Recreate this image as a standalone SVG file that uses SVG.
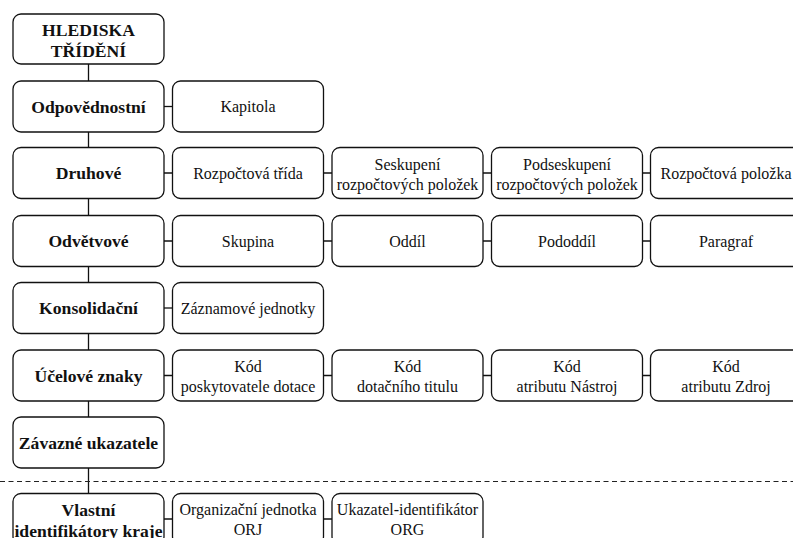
<svg xmlns="http://www.w3.org/2000/svg" width="793" height="538" viewBox="0 0 793 538">
<style>
.box{fill:#fff;stroke:#111;stroke-width:1.3}
.ln{stroke:#111;stroke-width:1.3;fill:none}
.dash{stroke:#222;stroke-width:1.2;stroke-dasharray:5 3.5;fill:none}
text{font-family:"Liberation Serif","Times New Roman",serif;fill:#111;text-anchor:middle}
.b{font-weight:bold;font-size:17.6px}
.r{font-size:16px}
</style>
<rect width="793" height="538" fill="#fff"/>
<g id="connectors">
<line class="ln" x1="88.5" y1="64" x2="88.5" y2="494"/>
<line class="ln" x1="164" y1="106.5" x2="172.5" y2="106.5"/>
<line class="ln" x1="164" y1="173" x2="801" y2="173"/>
<line class="ln" x1="164" y1="241" x2="801" y2="241"/>
<line class="ln" x1="164" y1="308" x2="172.5" y2="308"/>
<line class="ln" x1="164" y1="375.5" x2="801" y2="375.5"/>
<line class="ln" x1="164" y1="519" x2="332" y2="519"/>
</g>
<line id="divider" class="dash" x1="0" y1="481.5" x2="793" y2="481.5"/>
<g id="hlediska"><rect class="box" x="13" y="14" width="151" height="50" rx="8"/><text class="b" x="88.5" y="35.7">HLEDISKA</text><text class="b" x="88.5" y="56.7">TŘÍDĚNÍ</text></g>
<g id="odpovednostni"><rect class="box" x="13" y="81" width="151" height="51" rx="8"/><text class="b" x="88.5" y="112.7">Odpovědnostní</text></g>
<g id="kapitola"><rect class="box" x="172.5" y="81" width="151" height="51" rx="8"/><text class="r" x="248" y="112">Kapitola</text></g>
<g id="druhove"><rect class="box" x="13" y="147.5" width="151" height="51" rx="8"/><text class="b" x="88.5" y="179">Druhové</text></g>
<g id="rozpoctova-trida"><rect class="box" x="172.5" y="147.5" width="151" height="51" rx="8"/><text class="r" x="248" y="178.5">Rozpočtová třída</text></g>
<g id="seskupeni"><rect class="box" x="332" y="147.5" width="151" height="51" rx="8"/><text class="r" x="407.5" y="169.5">Seskupení</text><text class="r" x="407.5" y="189.5">rozpočtových položek</text></g>
<g id="podseskupeni"><rect class="box" x="491.5" y="147.5" width="151" height="51" rx="8"/><text class="r" x="567" y="169.5">Podseskupení</text><text class="r" x="567" y="189.5">rozpočtových položek</text></g>
<g id="rozpoctova-polozka"><rect class="box" x="650.5" y="147.5" width="151" height="51" rx="8"/><text class="r" x="726" y="178.5">Rozpočtová položka</text></g>
<g id="odvetvove"><rect class="box" x="13" y="215.5" width="151" height="51" rx="8"/><text class="b" x="88.5" y="247">Odvětvové</text></g>
<g id="skupina"><rect class="box" x="172.5" y="215.5" width="151" height="51" rx="8"/><text class="r" x="248" y="246.5">Skupina</text></g>
<g id="oddil"><rect class="box" x="332" y="215.5" width="151" height="51" rx="8"/><text class="r" x="407.5" y="246.5">Oddíl</text></g>
<g id="pododdil"><rect class="box" x="491.5" y="215.5" width="151" height="51" rx="8"/><text class="r" x="567" y="246.5">Pododdíl</text></g>
<g id="paragraf"><rect class="box" x="650.5" y="215.5" width="151" height="51" rx="8"/><text class="r" x="726" y="246.5">Paragraf</text></g>
<g id="konsolidacni"><rect class="box" x="13" y="282.5" width="151" height="51" rx="8"/><text class="b" x="88.5" y="314">Konsolidační</text></g>
<g id="zaznamove-jednotky"><rect class="box" x="172.5" y="282.5" width="151" height="51" rx="8"/><text class="r" x="248" y="313.5">Záznamové jednotky</text></g>
<g id="ucelove-znaky"><rect class="box" x="13" y="350" width="151" height="51" rx="8"/><text class="b" x="88.5" y="381.5">Účelové znaky</text></g>
<g id="kod-poskytovatele"><rect class="box" x="172.5" y="350" width="151" height="51" rx="8"/><text class="r" x="248" y="372">Kód</text><text class="r" x="248" y="392">poskytovatele dotace</text></g>
<g id="kod-titulu"><rect class="box" x="332" y="350" width="151" height="51" rx="8"/><text class="r" x="407.5" y="372">Kód</text><text class="r" x="407.5" y="392">dotačního titulu</text></g>
<g id="kod-nastroj"><rect class="box" x="491.5" y="350" width="151" height="51" rx="8"/><text class="r" x="567" y="372">Kód</text><text class="r" x="567" y="392">atributu Nástroj</text></g>
<g id="kod-zdroj"><rect class="box" x="650.5" y="350" width="151" height="51" rx="8"/><text class="r" x="726" y="372">Kód</text><text class="r" x="726" y="392">atributu Zdroj</text></g>
<g id="zavazne-ukazatele"><rect class="box" x="13" y="417" width="151" height="51" rx="8"/><text class="b" x="88.5" y="448.5">Závazné ukazatele</text></g>
<g id="vlastni-identifikatory"><rect class="box" x="13" y="493.5" width="151" height="51" rx="8"/><text class="b" x="88.5" y="515.7">Vlastní</text><text class="b" x="88.5" y="537">identifikátory kraje</text></g>
<g id="organizacni-jednotka"><rect class="box" x="172.5" y="493.5" width="151" height="51" rx="8"/><text class="r" x="248" y="515">Organizační jednotka</text><text class="r" x="248" y="535">ORJ</text></g>
<g id="ukazatel-identifikator"><rect class="box" x="332" y="493.5" width="151" height="51" rx="8"/><text class="r" x="407.5" y="515">Ukazatel-identifikátor</text><text class="r" x="407.5" y="535">ORG</text></g>
</svg>
